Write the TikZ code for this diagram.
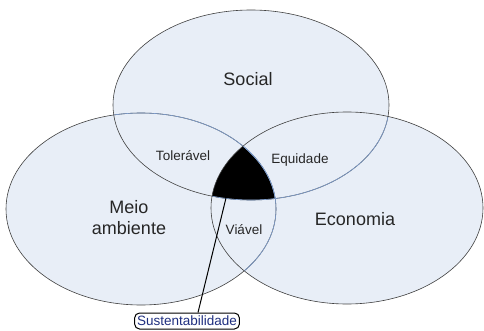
\documentclass[tikz,border=0pt]{standalone}
\usepackage{fontspec}
\setmainfont{Liberation Sans}
\definecolor{setfill}{HTML}{E8EEF7}
\definecolor{setline}{HTML}{404040}
\definecolor{setblue}{HTML}{7F9FD0}
\definecolor{labelblue}{HTML}{1F2F80}
\newcommand{\socialset}{(251,105) ellipse [x radius=138, y radius=95]}
\newcommand{\meioset}{(141,209) ellipse [x radius=135, y radius=96]}
\newcommand{\econset}{(347,208) ellipse [x radius=136, y radius=96]}
\tikzset{
    biglabel/.style={font=\fontsize{18}{21}\selectfont, text=black!85, align=center},
    smalllabel/.style={font=\fontsize{13.5}{15}\selectfont, text=black!85},
}
\begin{document}
\begin{tikzpicture}[x=1pt,y=-1pt]
    \useasboundingbox (0,0) rectangle (484,331);
    \fill [setfill] \meioset;
    \fill [setfill] \socialset;
    \fill [setfill] \econset;
    % triple intersection
    \begin{scope}
        \clip \meioset;
        \clip \socialset;
        \fill [black] \econset;
    \end{scope}
    % outlines, blue where covered
    \draw [setline, line width=0.6pt] \meioset;
    \begin{scope}
        \clip \socialset;
        \draw [setblue, line width=0.6pt] \meioset;
    \end{scope}
    \begin{scope}
        \clip \econset;
        \draw [setblue, line width=0.6pt] \meioset;
    \end{scope}
    \draw [setline, line width=0.6pt] \socialset;
    \begin{scope}
        \clip \econset;
        \draw [setblue, line width=0.6pt] \socialset;
    \end{scope}
    \draw [setline, line width=0.6pt] \econset;

    \node [biglabel] (social) at (248,79) {Social};
    \node [biglabel] (meio) at (129,218) {Meio\\ambiente};
    \node [biglabel] (econ) at (355,219) {Economia};
    \node [smalllabel] (toler) at (183,156) {Tolerável};
    \node [smalllabel] (equid) at (300,160) {Equidade};
    \node [smalllabel] (viavel) at (244,230) {Viável};

    \coordinate (core) at (226,198);
    \node [draw=black, line width=1pt, rounded corners=5pt, fill=white, text=labelblue,
           inner xsep=2.5pt, inner ysep=1pt, minimum height=16pt,
           font=\fontsize{13.5}{15}\selectfont] (sust) at (187,321) {Sustentabilidade};
    \draw [line width=1pt] ([xshift=11pt]sust.north) -- (core); % pointer to the core
\end{tikzpicture}
\end{document}
